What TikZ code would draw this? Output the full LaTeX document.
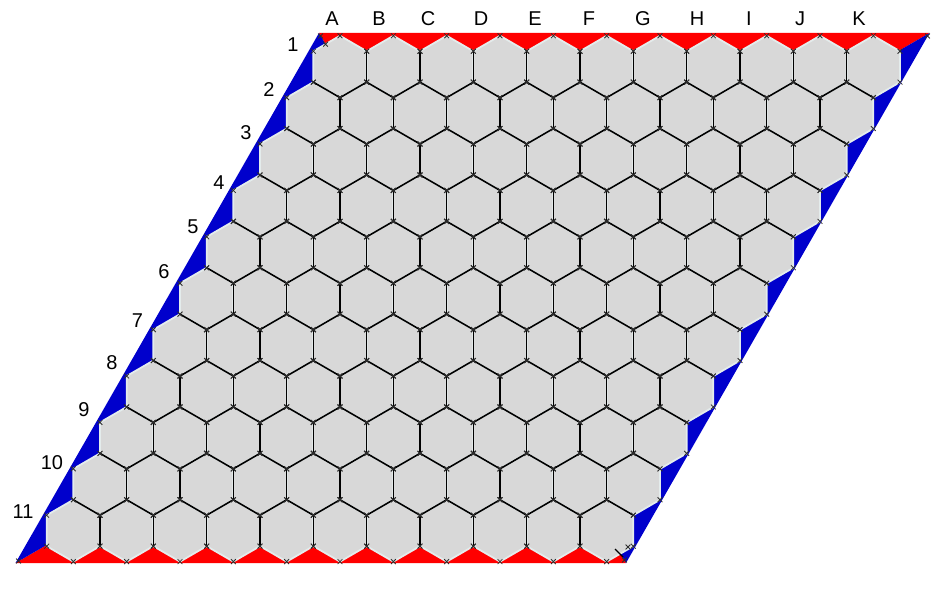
\documentclass[tikz,border=0pt]{standalone}
\usepackage{fontspec}
\setmainfont{Liberation Sans}
\definecolor{hexred}{RGB}{255,0,0}
\definecolor{hexblue}{RGB}{0,0,204}
\definecolor{cellgray}{RGB}{216,216,216}
\definecolor{rim}{RGB}{228,236,236}
\definecolor{markgray}{RGB}{45,45,45}
\begin{document}
\begin{tikzpicture}[x=1pt,y=-1pt,
  cell/.style={fill=cellgray, draw=rim, line width=1.8pt, line join=round},
  inneredge/.style={draw=black, line width=1.6pt, line cap=round},
  lbl/.style={font=\fontsize{20}{22}\selectfont, inner sep=0pt, text=black},
  xmark/.style={draw=markgray, line width=0.8pt},
  xm/.pic={\draw[xmark] (-2.4,-2.4) -- (2.4,2.4) (-2.4,2.4) -- (2.4,-2.4);}]
\useasboundingbox (0,0) rectangle (940,593);
% board corners
\coordinate (TL) at (319,33);
\coordinate (TR) at (929.5,33);
\coordinate (BR) at (626,563);
\coordinate (BL) at (15.5,563);
\coordinate (O) at (472.5,298);
\fill[hexred] (TL) -- (TR) -- (O) -- cycle;
\fill[hexred] (BR) -- (BL) -- (O) -- cycle;
\fill[hexblue] (TR) -- (BR) -- (O) -- cycle;
\fill[hexblue] (BL) -- (TL) -- (O) -- cycle;
% cells
\def\hw{26.667}
\def\hs{30.93}
\def\hh{15.465}
\foreach \r in {0,...,10} {
  \foreach \c in {0,...,10} {
    \pgfmathsetmacro\cx{340+\c*53.333-\r*26.667}
    \pgfmathsetmacro\cy{66.7+\r*46.4}
    \path[cell] ({\cx},{\cy-\hs}) -- ({\cx+\hw},{\cy-\hh}) -- ({\cx+\hw},{\cy+\hh})
      -- ({\cx},{\cy+\hs}) -- ({\cx-\hw},{\cy+\hh}) -- ({\cx-\hw},{\cy-\hh}) -- cycle;
  }
}
% inner edges
\foreach \r in {0,...,10} {
  \foreach \c in {0,...,10} {
    \pgfmathsetmacro\cx{340+\c*53.333-\r*26.667}
    \pgfmathsetmacro\cy{66.7+\r*46.4}
    \ifnum\c<10
      \draw[inneredge] ({\cx+\hw},{\cy-\hh}) -- ({\cx+\hw},{\cy+\hh});
    \fi
    \ifnum\r<10
      \draw[inneredge] ({\cx},{\cy+\hs}) -- ({\cx-\hw},{\cy+\hh});
      \ifnum\c<10
        \draw[inneredge] ({\cx+\hw},{\cy+\hh}) -- ({\cx},{\cy+\hs});
      \fi
    \fi
  }
}
% vertex marks
\foreach \r in {0,...,10} {
  \foreach \c in {0,...,10} {
    \pgfmathsetmacro\cx{340+\c*53.333-\r*26.667}
    \pgfmathsetmacro\cy{66.7+\r*46.4}
    \pic at ({\cx},{\cy-\hs}) {xm};
    \pic at ({\cx+\hw},{\cy-\hh}) {xm};
    \pic at ({\cx+\hw},{\cy+\hh}) {xm};
    \pic at ({\cx},{\cy+\hs}) {xm};
    \pic at ({\cx-\hw},{\cy+\hh}) {xm};
    \pic at ({\cx-\hw},{\cy-\hh}) {xm};
  }
}
% corner marks and diagonal meeting points
\coordinate (pTL) at (325.5,44.2);
\coordinate (sBR) at (615,549);
\coordinate (eBR) at (623,557);
\draw[black, line width=1.4pt] (sBR) -- (eBR);
\pic at (320.5,36) {xm};
\pic at (pTL) {xm};
\pic at (927.5,36) {xm};
\pic at (18.5,561) {xm};
\pic at (624.5,560) {xm};
\pic at (628,547) {xm};
% column labels
\node[lbl] (colA) at (332,18.5) {A};
\node[lbl] (colB) at (379,18.5) {B};
\node[lbl] (colC) at (428,18.5) {C};
\node[lbl] (colD) at (481,18.5) {D};
\node[lbl] (colE) at (535,18.5) {E};
\node[lbl] (colF) at (589,18.5) {F};
\node[lbl] (colG) at (643,18.5) {G};
\node[lbl] (colH) at (697,18.5) {H};
\node[lbl] (colI) at (749,18.5) {I};
\node[lbl] (colJ) at (800,18.5) {J};
\node[lbl] (colK) at (859,18.5) {K};
% row labels
\node[lbl] (row1) at (293,45) {1};
\node[lbl] (row2) at (269,90) {2};
\node[lbl] (row3) at (246,133) {3};
\node[lbl] (row4) at (219,183) {4};
\node[lbl] (row5) at (193,227) {5};
\node[lbl] (row6) at (164,272) {6};
\node[lbl] (row7) at (137.5,320.5) {7};
\node[lbl] (row8) at (112,363) {8};
\node[lbl] (row9) at (84,410) {9};
\node[lbl] (row10) at (52,463) {10};
\node[lbl] (row11) at (23,512) {11};
\end{tikzpicture}
\end{document}
